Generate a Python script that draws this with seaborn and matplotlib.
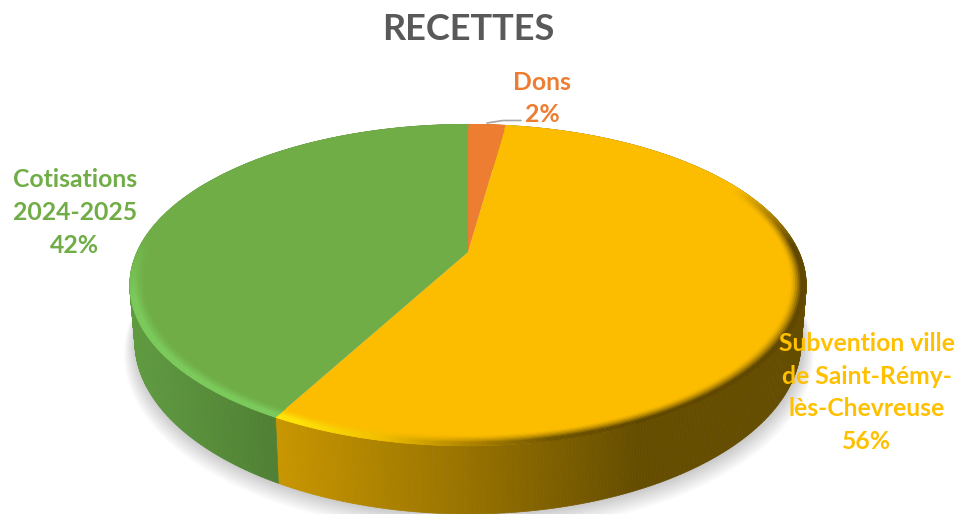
import numpy as np
import matplotlib
matplotlib.use("Agg")
from matplotlib import pyplot as plt
from matplotlib.collections import PolyCollection
from matplotlib.path import Path
from matplotlib.transforms import Affine2D, Transform
import seaborn as sns

labels = ["Dons", "Subvention ville\nde Saint-Rémy-\nlès-Chevreuse", "Cotisations\n2024-2025"]
values = [2.2, 55.7, 42.1]
colors = ["#ED7D31", "#FCBD00", "#70AD47"]
label_xy = [(542, 98.5), (867, 392.5), (75, 212.5)]
label_colors = ["#ED7D31", "#FFC000", "#70AD47"]

# perspective of the disc, in pixels
CX, CY = 468, 252
AX_X, AX_Y, TILT = 331, 154, 0.206
DEPTH = 54
BEVEL = 0.955


def project(u, v):
    w = 1 + TILT * v
    return CX + AX_X * u / w, CY - AX_Y * v / w


class DiscProjection(Transform):
    input_dims = output_dims = 2
    is_separable = False

    def transform_non_affine(self, values):
        x, y = project(values[:, 0], values[:, 1])
        return np.column_stack([x, y])

    def transform_path_non_affine(self, path):
        poly = path.to_polygons(Affine2D().scale(800), closed_only=False)[0] / 800
        return Path(self.transform_non_affine(poly))


def rim(theta, r=1.0, drop=0.0):
    u, v = r * np.cos(theta), r * np.sin(theta)
    x, y = project(u, v)
    # the lower rim is a little further from the eye
    return CX + (x - CX) * (1 - 0.015 * drop), y + drop * DEPTH / (1 + TILT * v)


def lookup(pal, x, x0, x1):
    i = np.clip((x - x0) / (x1 - x0), 0, 1) * (len(pal) - 1)
    return pal[i.astype(int)]


sns.set_theme(style="white")
plt.rcParams["font.family"] = ["Lato", "DejaVu Sans"]

fig = plt.figure(figsize=(9.59, 5.14), dpi=100)
ax = fig.add_axes([0, 0, 1, 1])

wedges, _ = ax.pie(values, colors=colors, startangle=90, counterclock=False,
                   wedgeprops={"linewidth": 0, "zorder": 3})
ax.set_aspect("auto")
ax.set_xlim(0, 959)
ax.set_ylim(514, 0)
ax.axis("off")
disc = DiscProjection() + ax.transData
for w in wedges:
    w.set_transform(disc)
    w.set_clip_on(False)

# soft shadow under the disc
circle = np.linspace(0, 2 * np.pi, 361)
for i in range(14):
    sx, sy = rim(circle, 1.0 + 0.0026 * i, 1.0)
    ax.fill(sx + 1, sy + 0.8 * i, color="black", alpha=0.015, lw=0, zorder=1)

wall_pals = [
    np.array(sns.blend_palette(["#B3641F", "#B3641F"], 256)),
    np.array(sns.blend_palette(["#C89600", "#9A7400", "#654D00"], 256)),
    np.array(sns.blend_palette(["#5F9A40", "#4F7F33"], 256)),
]
wall_ranges = [(0, 959), (278, 640), (137, 278)]
rim_pals = [
    np.array(sns.blend_palette(["#F29048", "#F29048"], 256)),
    np.array(sns.blend_palette(["#FFE60A", "#F2C000", "#B08500", "#6E5400", "#5E4700"], 256)),
    np.array(sns.blend_palette(["#7CCB5C", "#7CCB5C"], 256)),
]
rim_ranges = [(0, 959), (290, 640), (0, 959)]

for w, base, wpal, wr, rpal, rr in zip(wedges, colors, wall_pals, wall_ranges, rim_pals, rim_ranges):
    n = max(int((w.theta2 - w.theta1) * 2), 2)
    t = np.radians(np.linspace(w.theta1, w.theta2, n + 1))

    # side wall
    x0, y0 = rim(t)
    x1, y1 = rim(t, drop=1.0)
    quads = np.stack([np.column_stack([x0[:-1], y0[:-1]]), np.column_stack([x0[1:], y0[1:]]),
                      np.column_stack([x1[1:], y1[1:]]), np.column_stack([x1[:-1], y1[:-1]])], axis=1)
    mid = (x0[:-1] + x0[1:]) / 2
    fc = lookup(wpal, mid, *wr)
    ax.add_collection(PolyCollection(quads, facecolors=fc, edgecolors=fc, linewidths=0.5, zorder=2))

    # bevel on the rim of the top face
    radii = np.linspace(BEVEL, 1.0, 10)
    face = np.array(matplotlib.colors.to_rgb(base))
    cells, cc = [], []
    for r0, r1 in zip(radii[:-1], radii[1:]):
        xa, ya = rim(t, r0)
        xb, yb = rim(t, r1)
        mix = np.clip(((r0 + r1) / 2 - BEVEL) / (0.7 * (1 - BEVEL)), 0, 1) ** 1.5
        mx = (xb[:-1] + xb[1:]) / 2
        vv = np.sin((t[:-1] + t[1:]) / 2)
        # the bevel only shows towards the viewer
        fade = np.clip((0.45 - vv) / 0.4, 0, 1) if base == colors[1] else np.clip((0.1 - vv) / 0.4, 0, 1)
        m = (mix * fade)[:, None]
        col = face * (1 - m) + lookup(rpal, mx, *rr) * m
        cells.append(np.stack([np.column_stack([xa[:-1], ya[:-1]]), np.column_stack([xa[1:], ya[1:]]),
                               np.column_stack([xb[1:], yb[1:]]), np.column_stack([xb[:-1], yb[:-1]])], axis=1))
        cc.append(col)
    cc = np.concatenate(cc)
    ax.add_collection(PolyCollection(np.concatenate(cells), facecolors=cc, edgecolors=cc,
                                     linewidths=0.4, zorder=4))

# leader line of the small slice
ax.plot([487, 503, 521], [123, 120.5, 120.5], color="#A6A6A6", lw=1.2, zorder=5)

ax.text(468.5, 29, "RECETTES", ha="center", va="center", fontsize=26, fontweight="bold",
        color="#595959", zorder=6)
for lab, val, (lx, ly), c in zip(labels, values, label_xy, label_colors):
    ax.text(lx, ly, f"{lab}\n{val:.0f}%", ha="center", va="center", fontsize=17.8, fontweight="bold",
            color=c, linespacing=1.52, zorder=6)

fig.savefig("out.png", dpi=100)
